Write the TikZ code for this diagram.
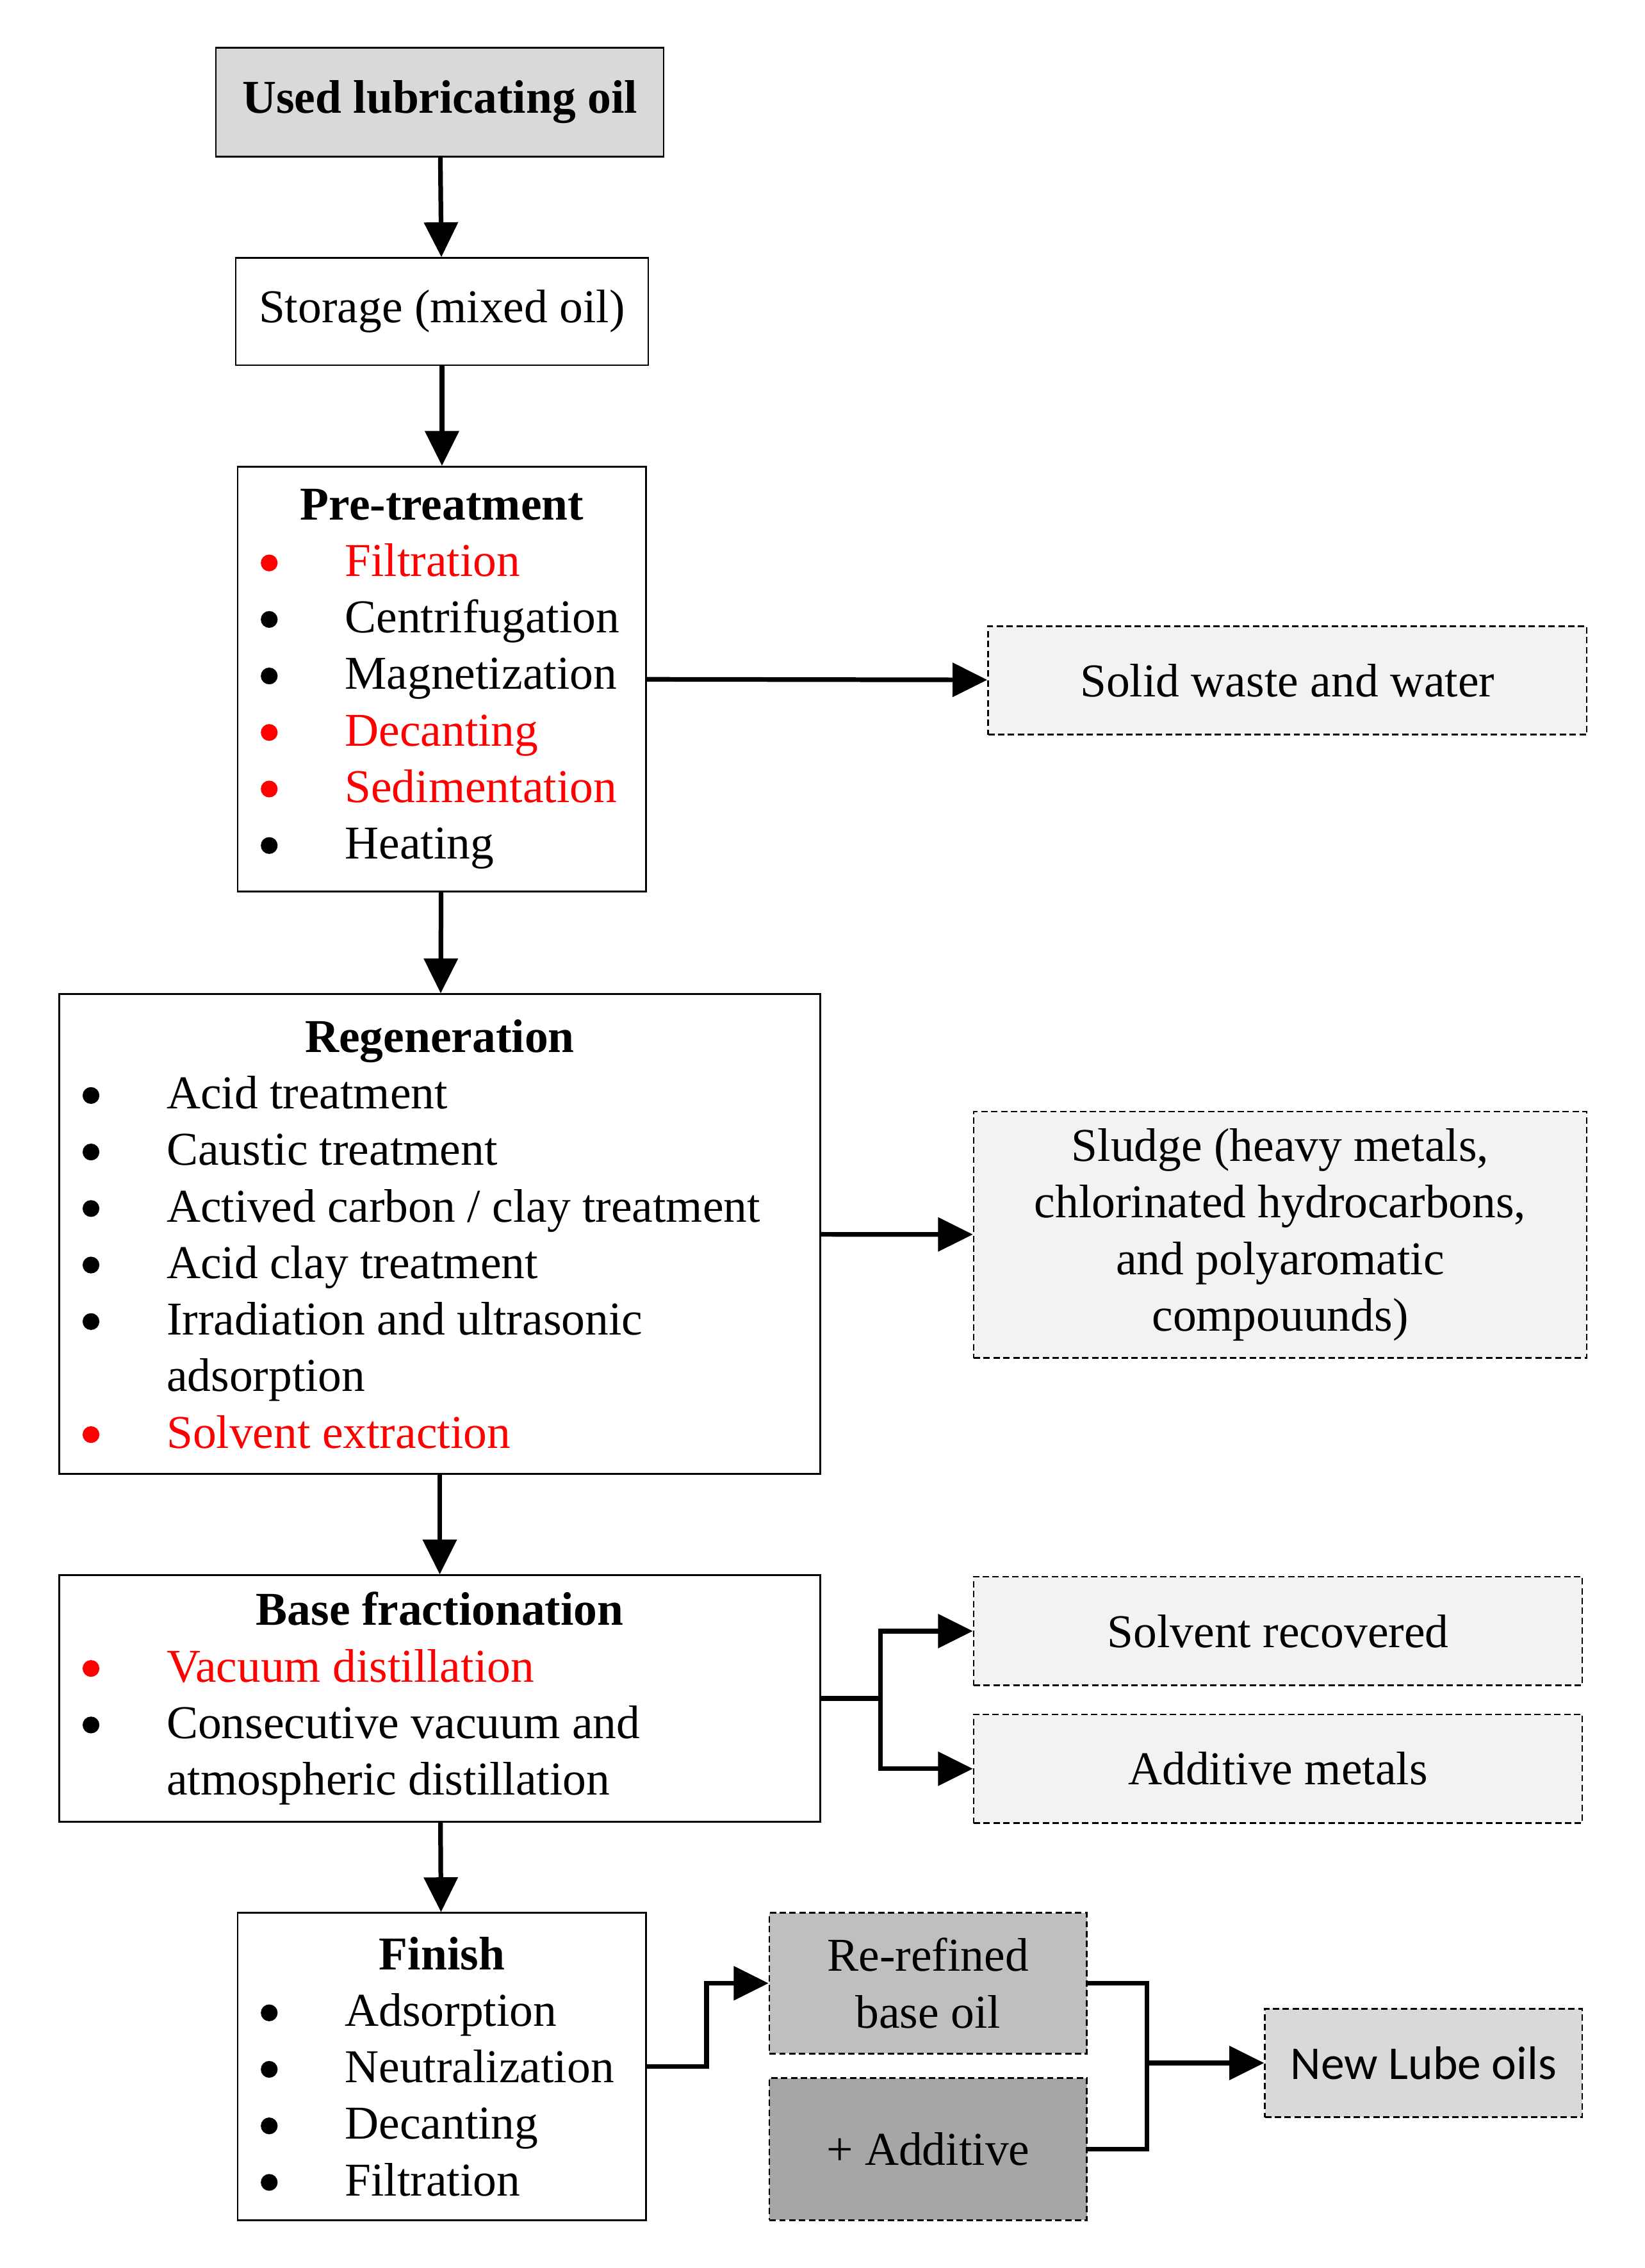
\documentclass[tikz,border=0pt]{standalone}
\usepackage{fontspec}
\setmainfont{Liberation Serif}
\newfontfamily\lubefont{Carlito}
\usetikzlibrary{positioning, arrows.meta, calc}

\definecolor{feedgray}{RGB}{217,217,217}
\definecolor{wastegray}{RGB}{242,242,242}
\definecolor{basegray}{RGB}{191,191,191}
\definecolor{addgray}{RGB}{166,166,166}

\newcommand{\boxfont}{\fontsize{16.25pt}{19.5pt}\selectfont}
\newcommand{\ttl}[1]{\noindent\spaceskip=0pt\xspaceskip=0pt\hskip0pt plus1filll\textbf{#1}\hskip0pt plus1filll\mbox{}}
\newcommand{\itm}[2][black]{\textcolor{#1}{\makebox[29pt][l]{\tikz[baseline=-4.6pt]\fill[#1] (0,0) circle[radius=2.9pt];}#2}}
\hyphenpenalty=10000
\exhyphenpenalty=10000

\begin{document}
\begin{tikzpicture}[
        x=0.5pt, y=-0.5pt,
        >={Triangle[length=12pt, width=11.5pt]},
        box/.style={draw, line width=0.6pt, inner xsep=8pt, inner ysep=2pt, font=\boxfont},
        listbox/.style={box, align=left},
        outbox/.style={box, dash pattern=on 2.2pt off 1.2pt, fill=wastegray, align=center},
        arr/.style={->, line width=1.6pt},
        link/.style={line width=1.6pt},
    ]
    \useasboundingbox (0,0) rectangle (1135,1565);

        % Draw the main process chain
        \node[box, fill=feedgray, minimum width=154.5pt, minimum height=37.5pt] (used) at (303.5,70.5) {\textbf{Used lubricating oil}};
        \node[box, minimum width=141pt, minimum height=37pt] (storage) at (305,215) {Storage (mixed oil)};
        \node[listbox, text width=125pt, minimum height=146.5pt] (pre) at (305,468.5) {\ttl{Pre-treatment}\\
            \itm[red]{Filtration}\\ \itm{Centrifugation}\\ \itm{Magnetization}\\
            \itm[red]{Decanting}\\ \itm[red]{Sedimentation}\\ \itm{Heating}};
        \node[listbox, text width=246.5pt, minimum height=165.5pt] (regen) at (303.5,851.5) {\ttl{Regeneration}\\
            \itm{Acid treatment}\\ \itm{Caustic treatment}\\ \itm{Actived carbon / clay treatment}\\
            \itm{Acid clay treatment}\\ \itm{Irradiation and ultrasonic}\\ \hspace*{29pt}adsorption\\
            \itm[red]{Solvent extraction}};
        \node[listbox, text width=246.5pt, minimum height=85pt] (basefrac) at (303.5,1172) {\ttl{Base fractionation}\\
            \itm[red]{Vacuum distillation}\\ \itm{Consecutive vacuum and}\\ \hspace*{29pt}atmospheric distillation};
        \node[listbox, text width=125pt, minimum height=106pt] (finish) at (305,1426) {\ttl{Finish}\\
            \itm{Adsorption}\\ \itm{Neutralization}\\ \itm{Decanting}\\ \itm{Filtration}};

        % Draw the by-product nodes
        \node[outbox, minimum width=206.5pt, minimum height=37.5pt] (solid) at (888.5,469.5) {Solid waste and water};
        \node[outbox, minimum width=211.5pt, minimum height=85pt] (sludge) at (883.5,852) {Sludge (heavy metals,\\chlorinated hydrocarbons,\\and polyaromatic\\compouunds)};
        \node[outbox, minimum width=210pt, minimum height=37.5pt] (solvent) at (882,1125.5) {Solvent recovered};
        \node[outbox, minimum width=210pt, minimum height=37.5pt] (addmet) at (882,1220.5) {Additive metals};

        % Draw the product nodes
        \node[outbox, fill=basegray, minimum width=109.5pt, minimum height=48.5pt] (rerefined) at (640.5,1368.5) {Re-refined\\base oil};
        \node[outbox, fill=addgray, minimum width=109.5pt, minimum height=49pt] (additive) at (640.5,1483) {+ Additive};
        \node[outbox, fill=feedgray, minimum width=109.5pt, minimum height=37.5pt, font=\boxfont\lubefont] (newlube) at (982.5,1423.5) {New Lube oils};

        % Connect each step with the next one
        \foreach \source / \dest in {used/storage, storage/pre, pre/regen, regen/basefrac, basefrac/finish}
            \draw[arr] (\source) -- (\dest);

        % Connect steps with their waste streams
        \foreach \source / \dest in {pre/solid, regen/sludge}
            \draw[arr] (\source) -- (\dest);

        \draw[link] (basefrac.east) -- ++(41,0) coordinate (bfsplit);
        \foreach \dest in {solvent, addmet}
            \draw[arr] (bfsplit) |- (\dest);

        % Blend the base oil with the additive
        \draw[arr] (finish.east) -- ++(41,0) |- (rerefined);
        \draw[link] (rerefined.east) -- ++(41,0) coordinate (merge) |- (additive.east);
        \draw[arr] (merge |- newlube.west) -- (newlube.west);
    \end{tikzpicture}
\end{document}
